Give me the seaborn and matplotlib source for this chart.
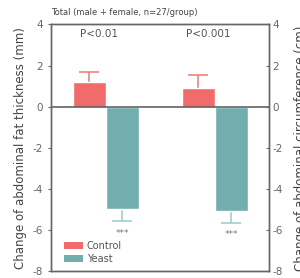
import matplotlib
matplotlib.use("Agg")
import matplotlib.pyplot as plt
import seaborn as sns
import pandas as pd
from matplotlib.patches import Patch

# ---- data ----
categories = ["fat", "circ"]
groups = ["Control", "Yeast"]
control_values = [1.20, 0.89]
yeast_values = [-4.95, -5.05]
control_err = [0.47, 0.63]
yeast_err = [0.62, 0.60]
p_labels = ["P<0.01", "P<0.001"]
sig_labels = ["***", "***"]
yticks = [-8, -6, -4, -2, 0, 2, 4]
title = "Total (male + female, n=27/group)"
left_label = "Change of abdominal fat thickness (mm)"
right_label = "Change of abdominal circumference (cm)"

colors = {"Control": "#F26B6B", "Yeast": "#72AEAE"}
err_colors = {"Control": "#F07676", "Yeast": "#9CC9C9"}

df = pd.DataFrame({
    "cat": categories * 2,
    "group": ["Control"] * 2 + ["Yeast"] * 2,
    "value": control_values + yeast_values,
})

sns.set_style("white")
plt.rcParams["font.family"] = ["Liberation Sans Narrow", "DejaVu Sans"]

fig = plt.figure(figsize=(3.0, 2.78), dpi=100)
ax = fig.add_axes([0.17, 0.0234, 0.725, 0.889])

sns.barplot(data=df, x="cat", y="value", hue="group", order=categories,
            hue_order=groups, palette=colors, width=0.606, gap=0,
            saturation=1, errorbar=None, ax=ax, legend=False, zorder=2)

# error bars drawn from bar patches; the inner half hides behind the bar
errs = {"Control": control_err, "Yeast": yeast_err}
vals = {"Control": control_values, "Yeast": yeast_values}
bars = [p for p in ax.patches]
for gi, g in enumerate(groups):
    for ci in range(len(categories)):
        p = bars[gi * len(categories) + ci]
        xc = p.get_x() + p.get_width() / 2
        v = vals[g][ci]
        e = errs[g][ci]
        ax.errorbar(xc, v, yerr=e, color=err_colors[g],
                    capsize=7, elinewidth=1.1, capthick=1.1, zorder=1)
        if g == "Yeast":
            ax.text(xc, v - e - 0.35, sig_labels[ci], ha="center", va="top",
                    fontsize=6.5, color="#777777")

for ci in range(len(categories)):
    ax.text(ci - 0.06, 3.55, p_labels[ci], ha="center", va="center",
            fontsize=7.5, color="#555555")

ax.axhline(0, color="#555555", lw=1.1, zorder=3)
ax.set_xlim(-0.505, 1.495)
ax.set_ylim(-8, 4)
ax.set_yticks(yticks)
ax.set_yticklabels([str(t) for t in yticks])
ax.set_xticks([])
ax.set_xlabel("")
ax.set_ylabel(left_label, fontsize=8.5, color="#444444", labelpad=4)
ax.tick_params(axis="y", labelsize=7.5, colors="#666666", length=2.5,
               width=0.8, pad=3, left=True)
for s in ax.spines.values():
    s.set_color("#666666")
    s.set_linewidth(1.0)

ax2 = ax.twinx()
ax2.set_ylim(-8, 4)
ax2.set_yticks(yticks)
ax2.set_yticklabels([str(t) for t in yticks])
ax2.tick_params(axis="y", labelsize=7.5, colors="#666666", length=2.5,
                width=0.8, pad=3, direction="in")
ax2.set_ylabel(right_label, fontsize=8.5, color="#444444", labelpad=8)
for s in ax2.spines.values():
    s.set_color("#666666")
    s.set_linewidth(1.0)

ax.text(0.0, 1.03, title, transform=ax.transAxes, fontsize=6,
        color="#444444", ha="left", va="bottom")

handles = [Patch(facecolor=colors[g], edgecolor="none", label=g) for g in groups]
ax.legend(handles=handles, loc="lower left", bbox_to_anchor=(0.025, 0.0),
          frameon=False, fontsize=7, handlelength=1.9, handleheight=0.8,
          handletextpad=0.4, labelspacing=0.3, labelcolor="#555555",
          borderpad=0.3)

fig.savefig("out.png", dpi=100)
